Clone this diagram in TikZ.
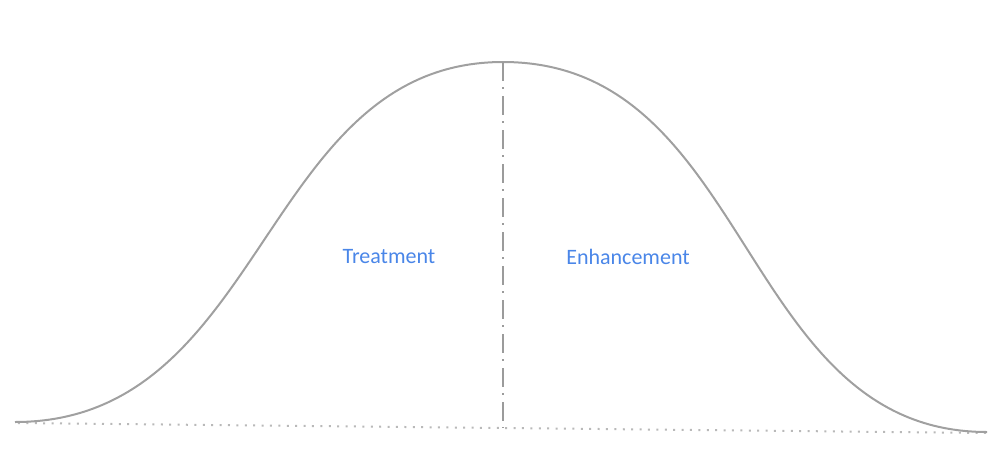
\documentclass[tikz,border=0pt]{standalone}
\usepackage{fontspec}
\setmainfont{Carlito}
\definecolor{curvegray}{RGB}{160,160,160}
\definecolor{axisgray}{RGB}{155,155,155}
\definecolor{dotgray}{RGB}{185,185,185}
\definecolor{labelblue}{RGB}{74,134,232}
\begin{document}
\begin{tikzpicture}[x=1pt,y=-1pt,
  bell/.style={draw=curvegray,line width=2pt},
  divider/.style={draw=axisgray,line width=2pt,dash pattern=on 19pt off 6pt on 2pt off 7pt},
  baseline/.style={draw=dotgray,line width=2pt,dash pattern=on 2pt off 6.4pt},
  lbl/.style={text=labelblue,font=\fontsize{22}{26}\selectfont,inner sep=0pt}]
\useasboundingbox (0,0) rectangle (1000,469);
\coordinate (bl) at (15,422);
\coordinate (peak) at (503,62);
\coordinate (br) at (987,432);
\coordinate (foot) at (503,427.5);
\draw[baseline] (18,423) -- (988,433);
\draw[bell] (bl) .. controls (267,422) and (261,62) .. (peak)
  .. controls (753,62) and (739,432) .. (br);
\draw[divider] (peak) -- (foot);
\node[lbl] (treat) at (389,256.5) {Treatment};
\node[lbl] (enh) at (628,256.5) {Enhancement};
\end{tikzpicture}
\end{document}
